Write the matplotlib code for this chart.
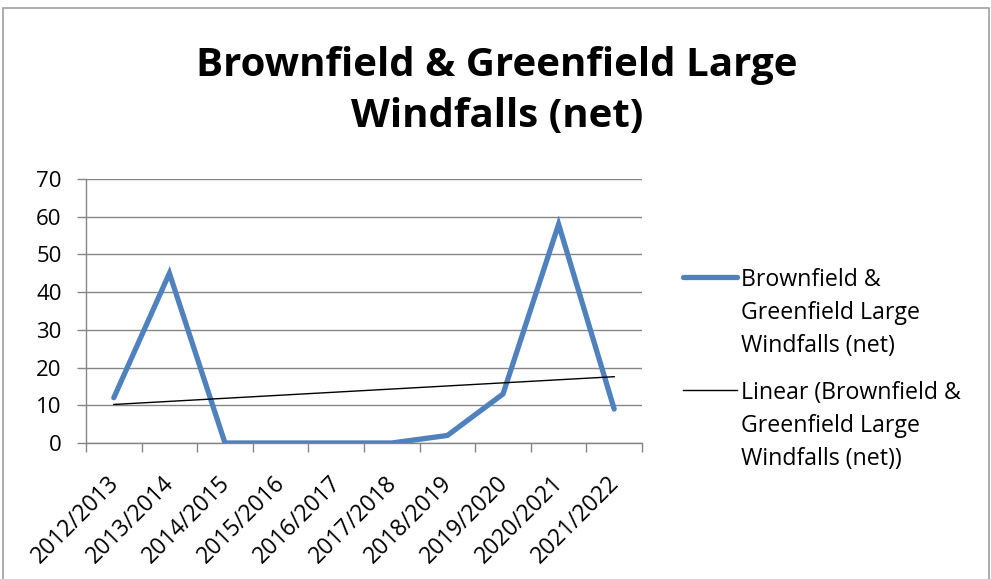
import matplotlib
matplotlib.use("Agg")
import matplotlib.pyplot as plt
import numpy as np
from matplotlib.lines import Line2D
from matplotlib.patches import Rectangle
from matplotlib.transforms import ScaledTranslation

plt.rcParams['font.family'] = ['Open Sans', 'DejaVu Sans']

# data
jahre = ['2012/2013', '2013/2014', '2014/2015', '2015/2016', '2016/2017',
         '2017/2018', '2018/2019', '2019/2020', '2020/2021', '2021/2022']
werte = [12, 45, 0, 0, 0, 0, 2, 13, 58, 9]
serie_name = 'Brownfield &\nGreenfield Large\nWindfalls (net)'

blau = '#4F81BD'
grau = '#868686'

x = np.arange(len(jahre))
# linear trend line, as Excel computes it
steigung, achse = np.polyfit(x, werte, 1)
trend = steigung * x + achse

fig = plt.figure(figsize=(9.91, 5.79), dpi=100)
ax = fig.add_axes([86 / 991, 1 - 443 / 579, 556 / 991, 264 / 579])

ax.plot(x, werte, color=blau, lw=3.8, solid_capstyle='round', solid_joinstyle='miter', zorder=3)
ax.plot(x, trend, color='black', lw=1.0, zorder=4)

ax.set_xlim(-0.5, len(jahre) - 0.5)
ax.set_ylim(0, 70)
ax.set_yticks(range(0, 71, 10))
ax.grid(axis='y', color=grau, lw=1.0)
ax.set_axisbelow(True)

ax.set_xticks(x)
ax.set_xticklabels(jahre, rotation=45, ha='right', va='top', rotation_mode='anchor')
ax.set_xticks(np.arange(-0.5, len(jahre)), minor=True)
ax.tick_params(axis='x', which='major', length=0, pad=12, labelsize=16.5)
ax.tick_params(axis='x', which='minor', length=6.5, color=grau, width=1.0)
ax.tick_params(axis='y', length=6.5, color=grau, width=1.0, pad=11, labelsize=16)

# Excel setzt die schraegen Beschriftungen etwas tiefer
verschiebung = ScaledTranslation(-0.07, -0.12, fig.dpi_scale_trans)
for lab in ax.get_xticklabels():
    lab.set_transform(lab.get_transform() + verschiebung)

for s in ['top', 'right']:
    ax.spines[s].set_visible(False)
for s in ['left', 'bottom']:
    ax.spines[s].set_color(grau)
    ax.spines[s].set_linewidth(1.0)

# title
fig.text(0.5016, 1 - 91 / 579, 'Brownfield & Greenfield Large\nWindfalls (net)',
         ha='center', va='center', fontsize=29, fontweight='bold', linespacing=1.38)

# legend
fig.add_artist(Line2D([683 / 991, 737 / 991], [1 - 277 / 579] * 2, color=blau, lw=3.8,
                      solid_capstyle='round'))
fig.text(741 / 991, 1 - 268 / 579, serie_name,
         ha='left', va='top', fontsize=16.7, linespacing=1.5)
fig.add_artist(Line2D([683 / 991, 737 / 991], [1 - 390 / 579] * 2, color='black', lw=1.0))
fig.text(741 / 991, 1 - 381 / 579, 'Linear (' + serie_name + ')',
         ha='left', va='top', fontsize=16.7, linespacing=1.5)

# chart border
fig.add_artist(Rectangle((3 / 991, -0.05), 986 / 991, 1.05 - 8 / 579, transform=fig.transFigure,
                         fill=False, edgecolor='#a0a0a0', lw=1.2))

fig.savefig('out.png', dpi=100)
